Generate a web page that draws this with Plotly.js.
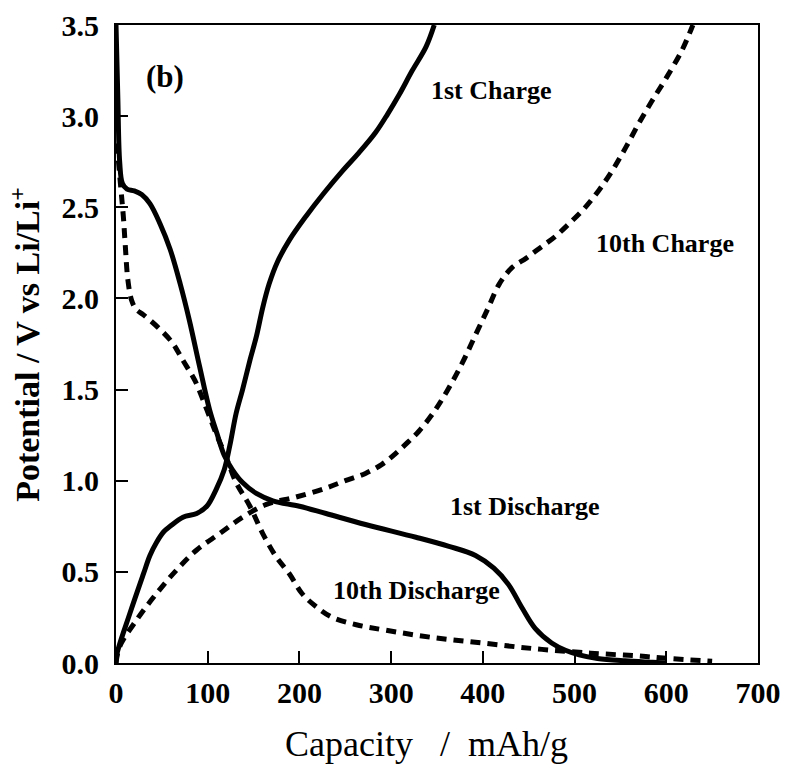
<!DOCTYPE html>
<html>
<head>
<meta charset="utf-8">
<script src="https://cdn.plot.ly/plotly-3.0.1.min.js"></script>
<style>
  html, body { margin: 0; padding: 0; background: #fff; }
  #chart { width: 787px; height: 766px; }
</style>
</head>
<body>
<div id="chart"></div>
<script>
// Galvanostatic charge/discharge profiles, cycles 1 and 10
const discharge1Cap = [0, 2, 4, 7, 12, 20, 28, 37, 48, 59, 70, 80, 91, 102, 110, 118, 127, 138, 153, 171, 200, 229, 272, 327, 363, 392, 412, 428, 443, 457, 475, 490, 505, 525, 555, 585, 600];
const discharge1V   = [3.5, 3.1, 2.75, 2.63, 2.6, 2.59, 2.57, 2.52, 2.41, 2.27, 2.08, 1.88, 1.63, 1.39, 1.26, 1.14, 1.06, 0.99, 0.93, 0.89, 0.86, 0.82, 0.76, 0.69, 0.64, 0.59, 0.52, 0.43, 0.30, 0.19, 0.11, 0.07, 0.045, 0.025, 0.012, 0.004, 0.0];

const charge1Cap = [0, 1, 15, 30, 37, 44, 52, 59, 73, 88, 99, 109, 118, 124, 131, 138, 146, 153, 160, 167, 176, 189, 207, 227, 247, 265, 283, 296, 309, 323, 338, 347];
const charge1V   = [0, 0.05, 0.27, 0.49, 0.59, 0.66, 0.72, 0.75, 0.80, 0.82, 0.86, 0.95, 1.06, 1.19, 1.37, 1.50, 1.66, 1.79, 1.95, 2.08, 2.20, 2.32, 2.45, 2.58, 2.70, 2.80, 2.91, 3.01, 3.12, 3.25, 3.38, 3.5];

const discharge10Cap = [1, 5, 8, 10, 13, 17, 22, 30, 46, 61, 73, 86, 99, 109, 120, 131, 146, 160, 175, 189, 203, 218, 236, 262, 294, 345, 399, 453, 501, 530, 566, 602, 650];
const discharge10V   = [2.85, 2.62, 2.45, 2.3, 2.1, 1.99, 1.94, 1.91, 1.84, 1.76, 1.66, 1.55, 1.39, 1.26, 1.13, 0.99, 0.86, 0.71, 0.58, 0.49, 0.38, 0.31, 0.25, 0.21, 0.18, 0.14, 0.11, 0.08, 0.06, 0.05, 0.04, 0.025, 0.01];

const charge10Cap = [0, 4, 23, 44, 66, 88, 113, 138, 164, 196, 229, 250, 272, 290, 305, 318, 330, 347, 363, 378, 392, 406, 418, 432, 447, 463, 479, 494, 510, 526, 541, 556, 570, 584, 600, 617, 629];
const charge10V   = [0, 0.09, 0.24, 0.38, 0.51, 0.62, 0.71, 0.80, 0.87, 0.91, 0.96, 1.0, 1.04, 1.09, 1.15, 1.21, 1.27, 1.38, 1.51, 1.65, 1.80, 1.95, 2.08, 2.17, 2.22, 2.28, 2.34, 2.41, 2.49, 2.59, 2.70, 2.83, 2.96, 3.08, 3.21, 3.36, 3.5];

const xTicks = [0, 100, 200, 300, 400, 500, 600, 700];
const yTicks = [0.0, 0.5, 1.0, 1.5, 2.0, 2.5, 3.0, 3.5];

const labelText = ['(b)', '1st Charge', '10th Charge', '1st Discharge', '10th Discharge'];
const labelCap  = [53, 409, 599, 445, 328];
const labelV    = [3.22, 3.14, 2.30, 0.86, 0.40];
const labelSize = [31, 26, 26, 26, 26];

const xTitle = 'Capacity\u00A0\u00A0\u00A0/\u00A0\u00A0mAh/g';
const yTitle = 'Potential / V vs Li/Li<sup>+</sup>';

const serif = 'Liberation Serif, Times New Roman, serif';
const solid = { color: '#000', width: 5, shape: 'spline', smoothing: 1.0 };
const dashed = { color: '#000', width: 5, dash: '10px,7px', shape: 'spline', smoothing: 1.0 };

const traces = [
  { x: discharge1Cap, y: discharge1V, mode: 'lines', line: solid, name: '1st Discharge' },
  { x: charge1Cap, y: charge1V, mode: 'lines', line: solid, name: '1st Charge' },
  { x: discharge10Cap, y: discharge10V, mode: 'lines', line: dashed, name: '10th Discharge' },
  { x: charge10Cap, y: charge10V, mode: 'lines', line: dashed, name: '10th Charge' }
];

const annotations = labelText.map((t, i) => ({
  x: labelCap[i], y: labelV[i], xref: 'x', yref: 'y',
  text: t, showarrow: false, xanchor: 'center', yanchor: 'middle',
  font: { family: serif, size: labelSize[i], color: '#000', weight: 'bold' }
}));

// axis titles placed as paper-anchored text
annotations.push({
  x: 0.483, y: -0.127, xref: 'paper', yref: 'paper', text: xTitle,
  showarrow: false, xanchor: 'center', yanchor: 'middle',
  font: { family: serif, size: 36, color: '#000' }
});
annotations.push({
  x: -0.142, y: 0.5, xref: 'paper', yref: 'paper', text: yTitle, textangle: -90,
  showarrow: false, xanchor: 'center', yanchor: 'middle',
  font: { family: serif, size: 34, color: '#000', weight: 'bold' }
});

const axisCommon = {
  showline: true, linecolor: '#000', linewidth: 2, mirror: true,
  ticks: 'inside', ticklen: 12, tickwidth: 2, tickcolor: '#000',
  showgrid: false, zeroline: false,
  tickfont: { family: serif, size: 30, color: '#000', weight: 'bold' }
};

const layout = {
  width: 787, height: 766,
  margin: { l: 116, r: 29, t: 25, b: 103 },
  paper_bgcolor: '#fff', plot_bgcolor: '#fff',
  showlegend: false,
  xaxis: Object.assign({}, axisCommon, {
    range: [0, 700], tickvals: xTicks, ticktext: xTicks.map(v => String(v)),
    ticklabelstandoff: 2
  }),
  yaxis: Object.assign({}, axisCommon, {
    range: [0, 3.5], tickvals: yTicks, ticktext: yTicks.map(v => v.toFixed(1)),
    ticklabelstandoff: 9
  }),
  annotations: annotations
};

Plotly.newPlot('chart', traces, layout, { displayModeBar: false, staticPlot: true });
</script>
</body>
</html>
